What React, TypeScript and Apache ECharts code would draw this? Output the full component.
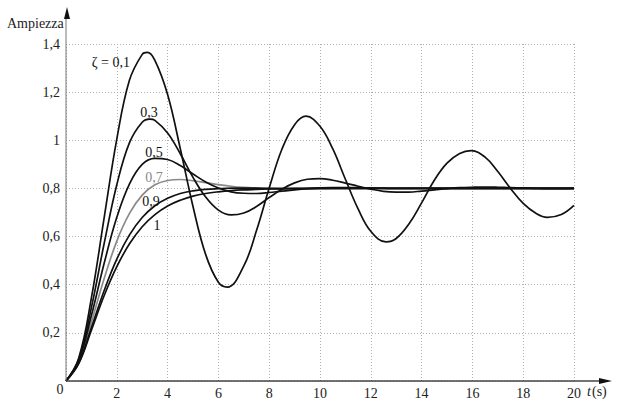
import React, { useEffect, useRef } from "react";
import * as echarts from "echarts";

// time samples (s)
const tValues = [0, 0.5, 1, 1.5, 2, 2.5, 3, 3.5, 4, 4.5, 5, 5.5, 6, 6.5, 7, 7.5, 8, 8.5, 9, 9.5, 10, 10.5, 11, 11.5, 12, 12.5, 13, 13.5, 14, 14.5, 15, 15.5, 16, 16.5, 17, 17.5, 18, 18.5, 19, 19.5, 20];
// ζ = 0,1 and ζ = 0,3 are read at their own instants, including the turning points
const t01 = [0, 0.5, 1, 1.5, 2, 2.5, 3, 3.2, 3.5, 4, 4.5, 5, 5.5, 6, 6.35, 7, 7.5, 8, 8.5, 9, 9.45, 10, 10.5, 11, 11.5, 12, 12.6, 13, 13.5, 14, 14.5, 15, 15.5, 15.95, 16.5, 17, 17.5, 18, 18.5, 18.95, 19.5, 20];
const t03 = [0, 0.5, 1, 1.5, 2, 2.5, 3, 3.3, 3.5, 4, 4.5, 5, 5.5, 6, 6.5, 7, 7.5, 8, 8.5, 9, 9.5, 10, 10.5, 11, 11.5, 12, 12.5, 13, 13.5, 14, 14.5, 15, 15.5, 16, 16.5, 17, 17.5, 18, 18.5, 19, 19.5, 20];

// amplitude for each damping ratio
const zeta01 = [0, 0.095, 0.345, 0.677, 1.005, 1.25, 1.357, 1.365, 1.332, 1.19, 0.965, 0.725, 0.525, 0.41, 0.39, 0.478, 0.625, 0.802, 0.963, 1.065, 1.1, 1.058, 0.965, 0.838, 0.715, 0.622, 0.578, 0.592, 0.652, 0.74, 0.834, 0.905, 0.945, 0.957, 0.93, 0.87, 0.8, 0.738, 0.697, 0.68, 0.692, 0.73];
const zeta03 = [0, 0.089, 0.305, 0.57, 0.815, 0.99, 1.075, 1.088, 1.083, 1.03, 0.944, 0.846, 0.764, 0.71, 0.69, 0.698, 0.725, 0.762, 0.797, 0.823, 0.838, 0.841, 0.834, 0.822, 0.809, 0.797, 0.788, 0.785, 0.785, 0.789, 0.794, 0.799, 0.803, 0.805, 0.806, 0.805, 0.803, 0.802, 0.8, 0.799, 0.799, 0.8];
const zeta05 = [0, 0.084, 0.272, 0.488, 0.68, 0.819, 0.9, 0.925, 0.92, 0.895, 0.86, 0.827, 0.802, 0.786, 0.78, 0.779, 0.783, 0.789, 0.794, 0.799, 0.802, 0.803, 0.803, 0.803, 0.802, 0.801, 0.8, 0.8, 0.8, 0.8, 0.8, 0.8, 0.8, 0.8, 0.8, 0.8, 0.8, 0.8, 0.8, 0.8, 0.8];
const zeta07 = [0, 0.079, 0.245, 0.425, 0.581, 0.696, 0.772, 0.815, 0.833, 0.837, 0.832, 0.824, 0.816, 0.809, 0.804, 0.801, 0.799, 0.798, 0.798, 0.799, 0.799, 0.8, 0.8, 0.8, 0.8, 0.8, 0.8, 0.8, 0.8, 0.8, 0.8, 0.8, 0.8, 0.8, 0.8, 0.8, 0.8, 0.8, 0.8, 0.8, 0.8];
const zeta09 = [0, 0.074, 0.222, 0.375, 0.506, 0.607, 0.679, 0.728, 0.759, 0.779, 0.79, 0.796, 0.799, 0.801, 0.801, 0.801, 0.8, 0.8, 0.8, 0.8, 0.8, 0.8, 0.8, 0.8, 0.8, 0.8, 0.8, 0.8, 0.8, 0.8, 0.8, 0.8, 0.8, 0.8, 0.8, 0.8, 0.8, 0.8, 0.8, 0.8, 0.8];
const zeta10 = [0, 0.072, 0.211, 0.354, 0.475, 0.57, 0.641, 0.691, 0.727, 0.751, 0.768, 0.779, 0.786, 0.791, 0.794, 0.796, 0.798, 0.7985, 0.799, 0.7995, 0.7996, 0.7998, 0.8, 0.8, 0.8, 0.8, 0.8, 0.8, 0.8, 0.8, 0.8, 0.8, 0.8, 0.8, 0.8, 0.8, 0.8, 0.8, 0.8, 0.8, 0.8];

const seriesNames = ["ζ = 0,1", "0,3", "0,5", "0,7", "0,9", "1"];
const seriesTimes = [t01, t03, tValues, tValues, tValues, tValues];
const seriesValues = [zeta01, zeta03, zeta05, zeta07, zeta09, zeta10];
const seriesColors = ["#111111", "#111111", "#111111", "#8a8a8a", "#111111", "#111111"];

const SERIF = "Liberation Serif";
const FS = 14;

export default function App() {
  const ref = useRef<HTMLDivElement>(null);
  useEffect(() => {
    document.body.style.margin = "0";
    if (!ref.current) return;
    const chart = echarts.init(ref.current, undefined, { renderer: "svg" });
    const L = 66, T = 44, R = 574, B = 381;
    const labelPos: [number, number, string][] = [
      [130, 62, "right"],
      [149, 112, "center"],
      [154, 152, "center"],
      [154, 177, "center"],
      [151, 201, "center"],
      [157, 225, "center"],
    ];
    const txt = (x: number, y: number, text: string, align: string, fill = "#222", fontStyle = "normal") => ({
      type: "text",
      x,
      y,
      z: 10,
      style: {
        text,
        fill,
        fontFamily: SERIF,
        fontSize: FS,
        fontStyle,
        textAlign: align,
        textVerticalAlign: "middle",
      },
    });
    chart.setOption({
      animation: false,
      grid: { left: L, top: T, right: 620 - R, bottom: 414 - B },
      xAxis: {
        type: "value",
        min: 0,
        max: 20,
        interval: 2,
        axisLine: { show: false },
        axisTick: { show: false },
        axisLabel: {
          margin: 5,
          color: "#222",
          fontFamily: SERIF,
          fontSize: FS,
          formatter: (v: number) => (v === 0 ? "" : String(v)),
        },
        splitLine: { show: true, lineStyle: { color: "#b0b0b0", type: [1, 2], width: 1 } },
      },
      yAxis: {
        type: "value",
        min: 0,
        max: 1.4,
        interval: 0.2,
        axisLine: { show: false },
        axisTick: { show: false },
        axisLabel: {
          margin: 6,
          color: "#222",
          fontFamily: SERIF,
          fontSize: FS,
          formatter: (v: number) => {
            if (v === 0) return "";
            if (Math.abs(v - 1) < 1e-9) return "1";
            return v.toFixed(1).replace(".", ",");
          },
        },
        splitLine: { show: true, lineStyle: { color: "#b0b0b0", type: [1, 2], width: 1 } },
      },
      series: seriesValues.map((vals, i) => ({
        name: seriesNames[i],
        type: "line",
        smooth: 0.4,
        showSymbol: false,
        data: seriesTimes[i].map((t, j) => [t, vals[j]]),
        lineStyle: { color: seriesColors[i], width: 1.7 },
        itemStyle: { color: seriesColors[i] },
        z: i === 3 ? 2 : 3,
      })),
      graphic: [
        { type: "line", shape: { x1: L, y1: B, x2: L, y2: 14 }, style: { stroke: "#777", lineWidth: 1 }, z: 10 },
        { type: "polygon", shape: { points: [[64, 19], [67, 7], [70, 19]] }, style: { fill: "#111" }, z: 10 },
        { type: "line", shape: { x1: L, y1: B, x2: 604, y2: B }, style: { stroke: "#444", lineWidth: 1.5 }, z: 10 },
        { type: "polygon", shape: { points: [[599, 378], [612, 381], [599, 384]] }, style: { fill: "#111" }, z: 10 },
        txt(60, 389, "0", "center"),
        txt(7, 23, "Ampiezza", "left"),
        txt(587, 391, "t", "left", "#222", "italic"),
        txt(592, 391, "(s)", "left"),
        ...labelPos.map(([x, y, align], i) => txt(x, y, seriesNames[i], align, i === 3 ? "#8a8a8a" : "#111")),
      ],
    });
    return () => chart.dispose();
  }, []);
  return <div ref={ref} style={{ width: 620, height: 414 }} />;
}
